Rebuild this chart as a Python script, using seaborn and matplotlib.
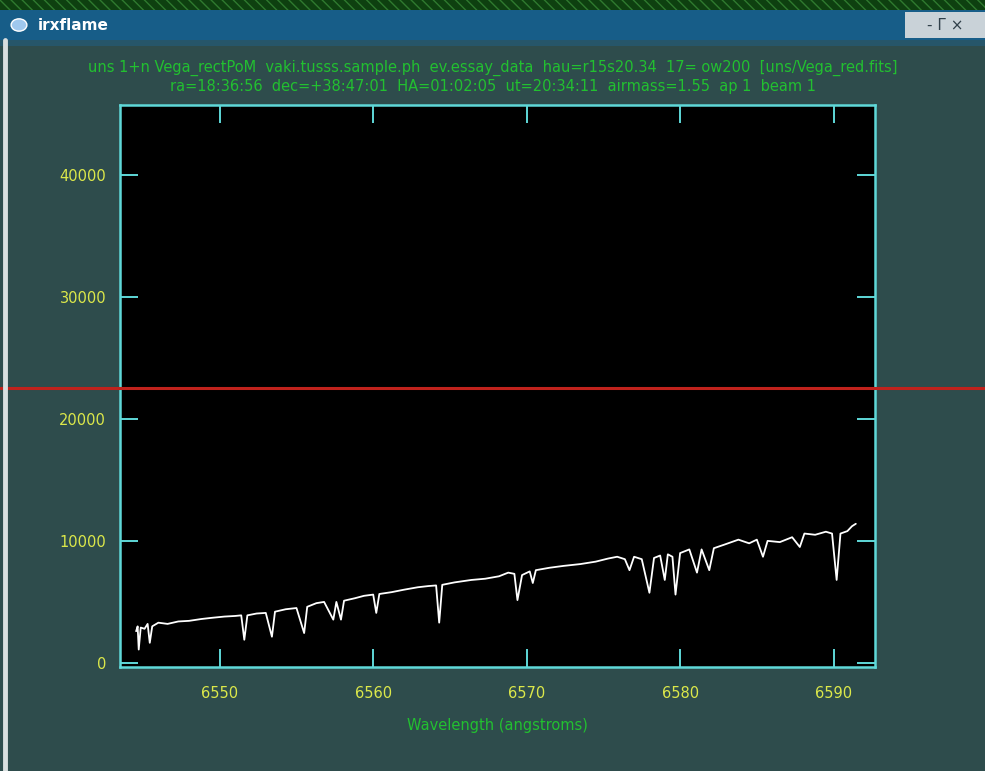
import matplotlib
matplotlib.use("Agg")
import matplotlib.pyplot as plt
import seaborn as sns
import pandas as pd
from matplotlib.patches import Rectangle, Circle
from matplotlib.lines import Line2D

# ---- data ----
wavelength = [6544.55, 6544.65, 6544.72, 6544.85, 6545.1, 6545.3, 6545.44, 6545.6,
              6546.0, 6546.6, 6547.3, 6548.0, 6548.8, 6549.5, 6550.3, 6551.0,
              6551.4, 6551.6, 6551.8, 6552.4, 6553.0, 6553.4, 6553.6, 6554.3,
              6555.0, 6555.5, 6555.7, 6556.3, 6556.8, 6557.4, 6557.6, 6557.9,
              6558.1, 6558.8, 6559.4, 6560.0, 6560.2, 6560.4, 6561.2, 6562.0,
              6562.9, 6563.6, 6564.1, 6564.3, 6564.5, 6565.3, 6566.4, 6567.3,
              6568.2, 6568.8, 6569.2, 6569.4, 6569.7, 6570.2, 6570.4, 6570.6,
              6571.5, 6572.4, 6573.5, 6574.5, 6575.3, 6575.9, 6576.4, 6576.7,
              6577.0, 6577.5, 6578.0, 6578.3, 6578.7, 6579.0, 6579.2, 6579.5,
              6579.7, 6580.0, 6580.6, 6581.1, 6581.4, 6581.9, 6582.2, 6582.9,
              6583.8, 6584.5, 6585.0, 6585.4, 6585.7, 6586.5, 6587.3, 6587.8,
              6588.1, 6588.8, 6589.5, 6589.9, 6590.2, 6590.45, 6590.9, 6591.2,
              6591.45]
flux = [2600, 3000, 1100, 2900, 2800, 3200, 1650, 3000,
        3300, 3200, 3400, 3450, 3600, 3700, 3800, 3850,
        3900, 1900, 3900, 4050, 4100, 2150, 4200, 4400,
        4500, 2450, 4600, 4900, 5000, 3550, 5000, 3550,
        5100, 5300, 5500, 5600, 4100, 5650, 5800, 6000,
        6200, 6300, 6350, 3300, 6400, 6600, 6800, 6900,
        7100, 7400, 7300, 5150, 7200, 7500, 6550, 7600,
        7800, 7950, 8100, 8300, 8550, 8700, 8500, 7600,
        8700, 8500, 5750, 8600, 8800, 6800, 8900, 8700,
        5600, 9000, 9300, 7400, 9300, 7600, 9400, 9700,
        10100, 9800, 10100, 8700, 10000, 9900, 10300, 9500,
        10600, 10500, 10750, 10600, 6800, 10600, 10800, 11200,
        11400]
x_ticks = [6550, 6560, 6570, 6580, 6590]
x_tick_labels = ["6550", "6560", "6570", "6580", "6590"]
y_ticks = [0, 10000, 20000, 30000, 40000]
y_tick_labels = ["0", "10000", "20000", "30000", "40000"]
cursor_y = 22540
x_limits = (6543.5, 6592.7)
y_limits = (-330, 45700)
title_line1 = ("uns 1+n Vega_rectPoM  vaki.tusss.sample.ph  ev.essay_data  hau=r15s20.34  "
               "17= ow200  [uns/Vega_red.fits]")
title_line2 = "ra=18:36:56  dec=+38:47:01  HA=01:02:05  ut=20:34:11  airmass=1.55  ap 1  beam 1"
x_label = "Wavelength (angstroms)"
window_title = "irxflame"

df = pd.DataFrame({"wavelength": wavelength, "flux": flux})

sns.set_style("dark")
plt.rcParams["font.family"] = ["DejaVu Sans"]

bg = "#2e4c4c"
fig = plt.figure(figsize=(9.85, 7.71), dpi=100, facecolor=bg)

# window decorations
fig.patches.append(Rectangle((0, 1 - 10 / 771), 1, 10 / 771, transform=fig.transFigure,
                             facecolor="#0e4010", edgecolor="#2f7a2f", hatch="\\\\\\", lw=0, zorder=0))
fig.patches.append(Rectangle((0, 1 - 40 / 771), 1, 30 / 771, transform=fig.transFigure,
                             facecolor="#175d88", edgecolor="none", zorder=0))
fig.patches.append(Rectangle((0, 1 - 46 / 771), 1, 6 / 771, transform=fig.transFigure,
                             facecolor="#26566a", edgecolor="none", zorder=0))
fig.patches.append(Circle((19 / 985, 1 - 25 / 771), 0.008, transform=fig.transFigure,
                          facecolor="#9fc8ee", edgecolor="white", zorder=1))
fig.text(38 / 985, 1 - 25 / 771, window_title, color="white", fontsize=11,
         fontweight="bold", va="center", ha="left")
fig.patches.append(Rectangle((905 / 985, 1 - 38 / 771), 80 / 985, 26 / 771,
                             transform=fig.transFigure, facecolor="#c9d2d8",
                             edgecolor="none", zorder=0))
fig.text(945 / 985, 1 - 25 / 771, "- \u0393 \u00d7", color="#30404a", fontsize=11,
         va="center", ha="center")
fig.lines.append(Line2D([5 / 985, 5 / 985], [0, 1 - 40 / 771], transform=fig.transFigure,
                        color="#d8dede", lw=3.5))

# title
fig.text(0.5, 1 - 68 / 771, title_line1, color="#22c030", fontsize=10.5,
         ha="center", va="center")
fig.text(0.5, 1 - 86 / 771, title_line2, color="#22c030", fontsize=10.5,
         ha="center", va="center")

ax = fig.add_axes([120 / 985, 1 - 667 / 771, 755 / 985, 562 / 771])
ax.set_facecolor("black")
sns.lineplot(data=df, x="wavelength", y="flux", ax=ax, color="white", lw=1.3,
             estimator=None, sort=False)
ax.set_xlim(*x_limits)
ax.set_ylim(*y_limits)
ax.set_xticks(x_ticks)
ax.set_xticklabels(x_tick_labels)
ax.set_yticks(y_ticks)
ax.set_yticklabels(y_tick_labels)
ax.grid(False)
cyan = "#5fd8d8"
for s in ax.spines.values():
    s.set_visible(True)
    s.set_color(cyan)
    s.set_linewidth(1.8)
ax.tick_params(axis="both", which="major", direction="in", length=13, width=1.4,
               color=cyan, labelcolor="#dce84a", labelsize=10.5,
               top=True, right=True, bottom=True, left=True)
ax.tick_params(axis="x", pad=14)
ax.tick_params(axis="y", pad=10)
ax.set_xlabel(x_label, color="#22c030", fontsize=10.5, labelpad=12)
ax.set_ylabel("")

# cursor line
ax.axhline(cursor_y, xmin=-120 / 755, xmax=(985 - 120) / 755, color="#c0221c",
           lw=2.2, clip_on=False, zorder=5)

fig.savefig("out.png", dpi=100, facecolor=fig.get_facecolor())
